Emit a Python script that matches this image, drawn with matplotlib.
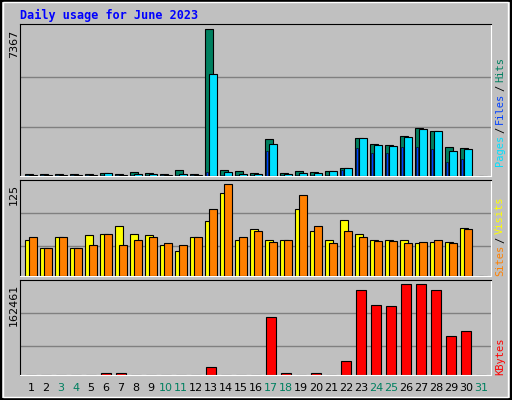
import matplotlib
matplotlib.use("Agg")
import matplotlib.pyplot as plt
import numpy as np

days = list(range(1, 32))
day_labels = [str(d) for d in days]
weekends = [3, 4, 10, 11, 17, 18, 24, 25, 31]
hits  = [84,84,84,84,84,134,84,184,134,84,285,84,7367,285,234,134,1858,134,234,184,234,385,1909,1590,1540,1992,2394,2244,1440,1406,0]
files = [70,70,70,70,70,134,70,120,100,70,120,70,5107,184,84,84,1590,84,134,134,234,385,1909,1540,1490,1942,2344,2244,1239,1339,0]
pages = [30,30,30,30,30,50,30,40,40,30,40,30,184,40,30,30,1239,30,60,60,40,300,1390,1139,1139,1440,1440,1339,686,837,0]
sites  = [50,38,54,39,56,57,69,58,56,42,35,54,75,113,50,64,49,50,92,62,50,76,58,50,50,50,45,46,46,65,0]
visits = [53,39,54,38,42,57,42,50,54,45,42,54,91,125,54,61,46,49,110,69,45,61,54,48,48,45,46,50,45,64,0]
kbytes = [1200,1200,1200,1200,1200,3570,3570,1200,1200,1200,1200,1200,14280,1200,1200,1200,103550,3570,1200,3570,1200,25000,151750,124970,123180,162461,162461,151750,69630,78550,0]
max_hits, max_sites, max_kb = 7367, 125, 162461

BG = "#C0C0C0"
fig = plt.figure(figsize=(5.12, 4.0), dpi=100, facecolor=BG)
W, H = 512, 400
def ax_px(x0, y0, x1, y1):
    a = fig.add_axes([x0/W, (H-y1)/H, (x1-x0)/W, (y1-y0)/H])
    a.set_facecolor(BG)
    a.set_xlim(0.27, 31.67)
    a.set_xticks([]); a.set_yticks([])
    for s in ["top", "left"]:
        a.spines[s].set_color("black")
    for s in ["bottom", "right"]:
        a.spines[s].set_color("white")
    return a

x = np.array(days, dtype=float)
ek = dict(edgecolor="black", linewidth=0.8)

a1 = ax_px(20, 24.3, 491, 176)
a1.set_ylim(0, max_hits*(176-24.3)/(176-29.3))
for g in [2444, 4990]:
    a1.axhline(g, color="#808080", lw=1, zorder=0)
a1.bar(x-0.13, hits, width=0.5, color="#008060", zorder=2, **ek)
a1.bar(x+0.13, files, width=0.5, color="#00E0FF", zorder=3, **ek)
a1.bar(x-0.24, pages, width=0.15, color="#0040FF", zorder=4, edgecolor="black", linewidth=0.4)

a2 = ax_px(20, 180, 491, 276.3)
a2.set_ylim(0, max_sites*(276.3-180)/(276.3-184.3))
for g in [41, 86]:
    a2.axhline(g, color="#808080", lw=1, zorder=0)
a2.bar(x-0.13, sites, width=0.5, color="#FFFF00", zorder=2, **ek)
a2.bar(x+0.13, visits, width=0.5, color="#FF8000", zorder=3, **ek)

a3 = ax_px(20, 280.3, 491, 375.3)
a3.set_ylim(0, max_kb*95/91)
for g in [51770, 110700]:
    a3.axhline(g, color="#808080", lw=1, zorder=0)
a3.bar(x, kbytes, width=0.71, color="#FF0000", zorder=2, **ek)

for d, lab in zip(days, day_labels):
    col = "#008060" if d in weekends else "black"
    a3.text(d, -0.08, lab, transform=a3.get_xaxis_transform(), ha="center", va="top",
            fontsize=8, color=col, family="DejaVu Sans")

mono = "DejaVu Sans Mono"
fig.text(20/W, 1-15/H, "Daily usage for June 2023", color="#0000FF", fontsize=8.5,
         fontweight="bold", family=mono, va="center", ha="left")
for txt, yy in [(str(max_hits), 30), (str(max_sites), 184), (str(max_kb), 284)]:
    fig.text(14/W, 1-yy/H, txt, rotation=90, ha="center", va="top", fontsize=8, family="DejaVu Sans")

def vstack(parts, y_bottom):
    y = y_bottom
    for t, c in parts:
        fig.text(500/W, 1-y/H, t, rotation=90, ha="center", va="bottom", color=c,
                 fontsize=7.5, family=mono)
        y -= len(t)*6.0 + 3
vstack([("Pages", "#00E0FF"), ("/", "black"), ("Files", "#0040FF"), ("/", "black"), ("Hits", "#008060")], 166)
vstack([("Sites", "#FF8000"), ("/", "black"), ("Visits", "#FFFF00")], 276)
vstack([("KBytes", "#FF0000")], 375)

fig.patches.append(plt.Rectangle((0.002, 0.002), 0.996, 0.996, transform=fig.transFigure,
                                 fill=False, edgecolor="black", lw=1.5))
fig.patches.append(plt.Rectangle((0.006, 0.008), 0.986, 0.986, transform=fig.transFigure,
                                 fill=False, edgecolor="white", lw=1))
fig.savefig("out.png", dpi=100, facecolor=BG)
